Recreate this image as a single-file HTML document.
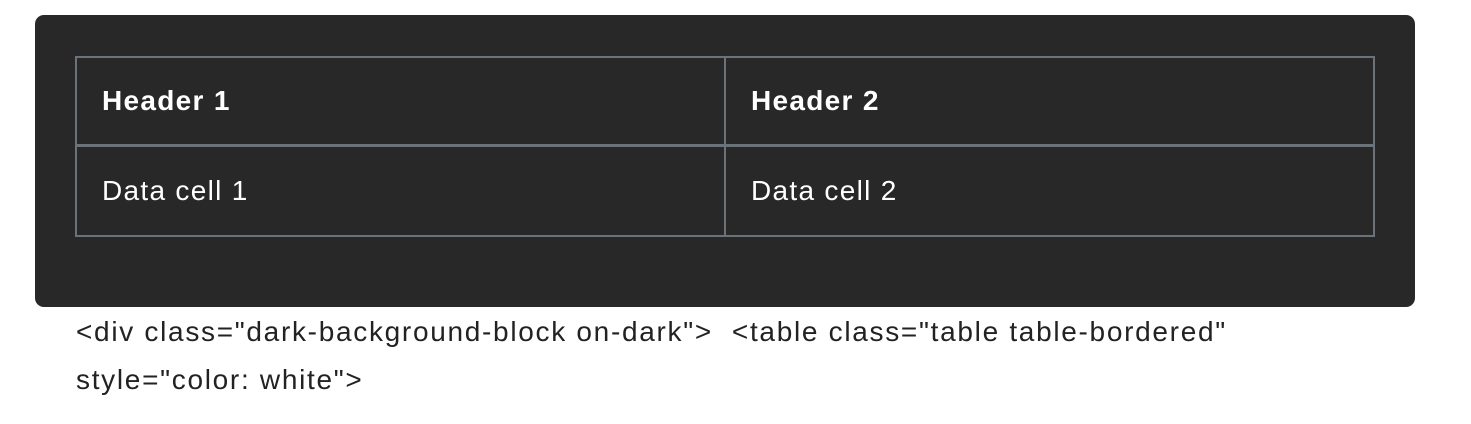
<!DOCTYPE html>
<html><head><style>
body{margin:0;background:#fff;width:1471px;height:424px;position:relative;font-family:"Liberation Sans",sans-serif;}
.blk{position:absolute;left:35px;top:15px;width:1380px;height:292px;background:#282828;border-radius:9px;}
table{position:absolute;left:75px;top:56px;width:1300px;border-collapse:collapse;color:#fff;font-size:28px;letter-spacing:1.3px;}
td,th{border:2px solid #6c727a;text-align:left;padding:0 0 0 25px;}
th{height:86px;font-weight:bold;border-bottom-width:3px;letter-spacing:1.3px}
td{height:88px;}
.cap{position:absolute;left:76px;top:308px;font-size:28px;letter-spacing:1.7px;line-height:48px;color:#222;width:1300px;white-space:nowrap;}
</style></head><body>
<div class="blk"></div>
<table><tr><th style="width:622px">Header 1</th><th>Header 2</th></tr>
<tr><td>Data cell 1</td><td>Data cell 2</td></tr></table>
<div class="cap">&lt;div class="dark-background-block on-dark"&gt; &nbsp;&lt;table class="table table-bordered"<br>style="color: white"&gt;</div>
</body></html>
